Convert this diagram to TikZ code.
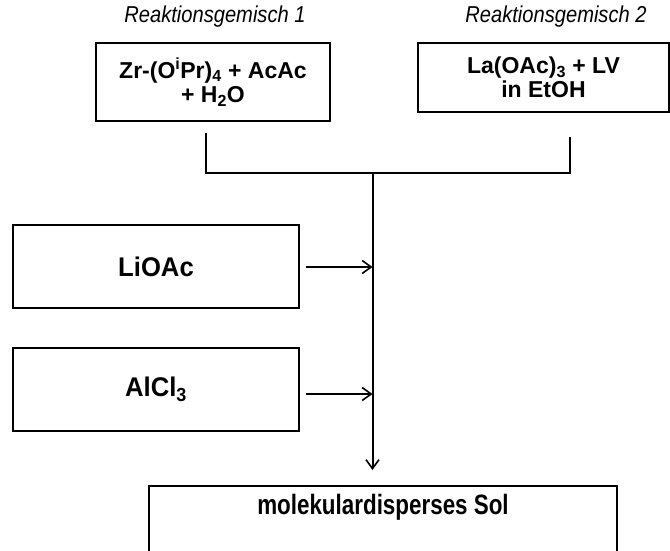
\documentclass[tikz,border=0pt]{standalone}
\usepackage{fontspec}
\setmainfont{Liberation Sans}
\newfontfamily\condA[FakeStretch=0.875]{Liberation Sans}
\newfontfamily\condB[FakeStretch=0.95]{Liberation Sans}
\newfontfamily\condC[FakeStretch=0.8]{Liberation Sans}
\usetikzlibrary{arrows.meta}
\begin{document}
\begin{tikzpicture}[x=1pt,y=-1pt,
  box/.style={draw, line width=1.5pt, inner sep=0pt, align=center, font=\bfseries\fontsize{23}{24.5}\selectfont},
  sidebox/.style={box, font=\condB\bfseries\fontsize{27}{29}\selectfont, minimum width=286pt, minimum height=83pt},
  lab/.style={font=\condA\itshape\fontsize{23}{26}\selectfont, inner sep=0pt},
  conn/.style={line width=2pt},
  arr/.style={line width=1.8pt, -{Straight Barb[length=9pt,width=13pt,line width=1.6pt]}}]
\useasboundingbox (0,0) rectangle (670,550);
\clip (0,0) rectangle (670,550);
% labels
\node[lab] (lab1) at (215,17) {Reaktionsgemisch 1};
\node[lab] (lab2) at (556,17) {Reaktionsgemisch 2};
% top boxes
\node[box, minimum width=234pt, minimum height=78pt] (m1) at (213,82)
  {Zr-(O\textsuperscript{i}Pr)\textsubscript{4} + AcAc\\+ H\textsubscript{2}O};
\node[box, minimum width=251pt, minimum height=69pt] (m2) at (543.5,77.5)
  {La(OAc)\textsubscript{3} + LV\\in EtOH};
% side boxes
\node[sidebox] (li) at (156,266.5) {LiOAc};
\node[sidebox] (al) at (156,389.5) {AlCl\textsubscript{3}};
% result box
\node[box, font=\condC\bfseries\fontsize{28}{30}\selectfont, anchor=north, minimum width=468pt, text height=29pt, text depth=46pt] (sol) at (383,485) {molekulardisperses Sol};
% connectors
\coordinate (l1) at (206,133);
\coordinate (r1) at (570,137);
\coordinate (j) at (372.5,173);
\coordinate (pli) at (372.5,267);
\coordinate (pal) at (372.5,394);
\draw[conn] (l1) |- (j) -| (r1);
\draw[conn, -{Straight Barb[length=9pt,width=13pt,line width=1.6pt]}, shorten >=15pt] (j) -- (j |- sol.north);
\draw[arr, shorten <=6pt] (li.east |- pli) -- (pli);
\draw[arr, shorten <=6pt] (al.east |- pal) -- (pal);
\end{tikzpicture}
\end{document}
